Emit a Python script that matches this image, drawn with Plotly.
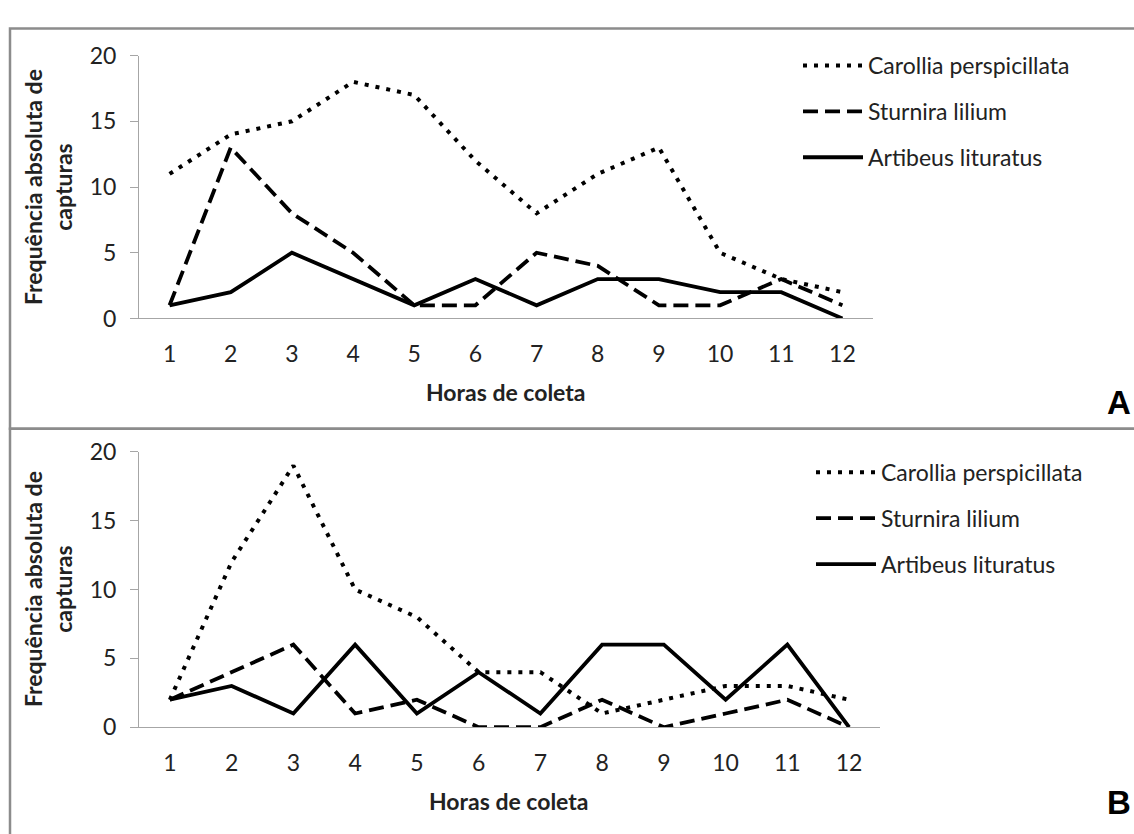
import plotly.graph_objects as go

horas = [1, 2, 3, 4, 5, 6, 7, 8, 9, 10, 11, 12]
tick_labels = ["1", "2", "3", "4", "5", "6", "7", "8", "9", "10", "11", "12"]
y_ticks = [0, 5, 10, 15, 20]

especies = ["Carollia perspicillata", "Sturnira lilium", "Artibeus lituratus"]

a_carollia = [11, 14, 15, 18, 17, 12, 8, 11, 13, 5, 3, 2]
a_sturnira = [1, 13, 8, 5, 1, 1, 5, 4, 1, 1, 3, 1]
a_artibeus = [1, 2, 5, 3, 1, 3, 1, 3, 3, 2, 2, 0]

b_carollia = [2, 12, 19, 10, 8, 4, 4, 1, 2, 3, 3, 2]
b_sturnira = [2, 4, 6, 1, 2, 0, 0, 2, 0, 1, 2, 0]
b_artibeus = [2, 3, 1, 6, 1, 4, 1, 6, 6, 2, 6, 0]

W, H = 1134, 834
FONT = "Lato"
TXT = "#222222"
AX = "#a6a6a6"

def sx(p):
    return p / W

def sy(p):
    return 1 - p / H

styles = [
    dict(color="black", width=4, dash="4px,7px"),
    dict(color="black", width=3.8, dash="15px,7px"),
    dict(color="black", width=3.8, dash="solid"),
]

fig = go.Figure()
panels = [
    ("x", "y", "legend", [a_carollia, a_sturnira, a_artibeus]),
    ("x2", "y2", "legend2", [b_carollia, b_sturnira, b_artibeus]),
]
for xa, ya, lg, series in panels:
    for i, (name, vals) in enumerate(zip(especies, series)):
        fig.add_trace(go.Scatter(
            x=horas, y=vals, mode="lines", name=name,
            line=styles[i], xaxis=xa, yaxis=ya, legend=lg,
            legendgroup=lg + str(i), hoverinfo="skip",
        ))

xaxis_common = dict(
    range=[0.5, 12.5], tickvals=horas, ticktext=tick_labels,
    showline=True, linecolor=AX, linewidth=1, ticks="", showgrid=False,
    zeroline=False, ticklabelstandoff=15,
    tickfont=dict(family=FONT, size=23, color=TXT),
)
yaxis_common = dict(
    range=[0, 20], tickvals=y_ticks, showline=True, linecolor=AX, linewidth=1,
    ticks="outside", ticklen=8, tickcolor=AX, tickwidth=1, showgrid=False,
    zeroline=False, ticklabelstandoff=9,
    tickfont=dict(family=FONT, size=23, color=TXT),
)
legend_common = dict(
    font=dict(family=FONT, size=23, color=TXT),
    bgcolor="rgba(0,0,0,0)", tracegroupgap=13, itemwidth=60,
    xanchor="left", yanchor="top",
)

fig.update_layout(
    width=W, height=H,
    margin=dict(l=0, r=0, t=0, b=0),
    paper_bgcolor="white", plot_bgcolor="white",
    xaxis=dict(domain=[sx(139), sx(873)], anchor="y", **xaxis_common),
    yaxis=dict(domain=[sy(314), sy(42)], anchor="x", **yaxis_common),
    xaxis2=dict(domain=[sx(139), sx(880)], anchor="y2", **xaxis_common),
    yaxis2=dict(domain=[sy(737), sy(452)], anchor="x2", **yaxis_common),
    legend=dict(x=sx(798), y=sy(30), **legend_common),
    legend2=dict(x=sx(811), y=sy(451), **legend_common),
    showlegend=True,
)

fig.update_layout(shapes=[
    dict(type="rect", xref="paper", yref="paper",
         x0=sx(10), x1=sx(1150), y0=sy(428), y1=sy(14),
         line=dict(color="#8c8c8c", width=2.5)),
    dict(type="rect", xref="paper", yref="paper",
         x0=sx(10), x1=sx(1150), y0=sy(850), y1=sy(428),
         line=dict(color="#8c8c8c", width=2.5)),
])

ytitle = "Frequência absoluta de<br>capturas"
annotations = []
for cy, tx_y, tx_x, letter, lx, ly in [(178, 390, 506, "A", 1133, 401),
                                       (594, 813, 509, "B", 1133, 815)]:
    annotations.append(dict(
        text=ytitle, xref="paper", yref="paper", x=sx(48), y=sy(cy),
        xanchor="center", yanchor="middle", textangle=-90, showarrow=False,
        font=dict(family=FONT, size=23, color=TXT, weight="bold"),
    ))
    annotations.append(dict(
        text="Horas de coleta", xref="paper", yref="paper", x=sx(tx_x), y=sy(tx_y),
        xanchor="center", yanchor="middle", showarrow=False,
        font=dict(family=FONT, size=23, color=TXT, weight="bold"),
    ))
    annotations.append(dict(
        text=letter, xref="paper", yref="paper", x=sx(lx), y=sy(ly),
        xanchor="right", yanchor="middle", showarrow=False,
        font=dict(family="Liberation Sans", size=33, color="black", weight="bold"),
    ))
fig.update_layout(annotations=annotations)

fig.write_html(
    "out.html",
    config={"displayModeBar": False},
    post_script="document.body.style.margin='0';document.body.style.overflow='hidden';",
)
